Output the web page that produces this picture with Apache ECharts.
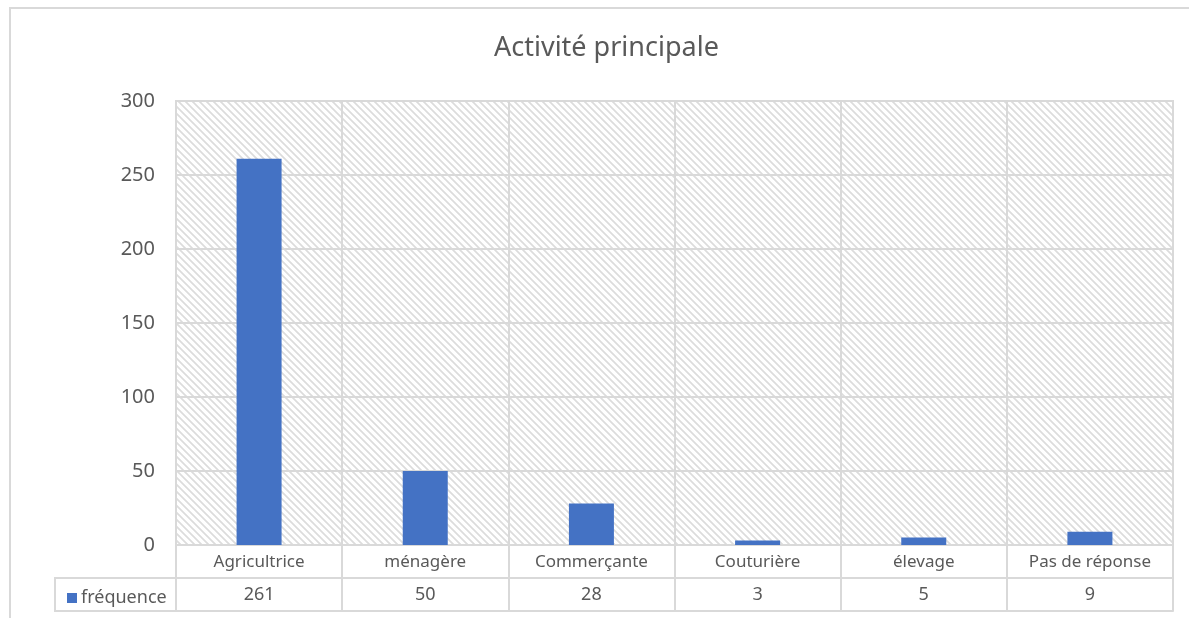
<!DOCTYPE html>
<html>
<head>
<meta charset="utf-8">
<script src="https://cdn.jsdelivr.net/npm/echarts@6/dist/echarts.min.js"></script>
<style>
html,body{margin:0;padding:0;background:#fff;}
#c{width:1189px;height:618px;}
</style>
</head>
<body>
<div id="c"></div>
<script>
const categories = ['Agricultrice', 'ménagère', 'Commerçante', 'Couturière', 'élevage', 'Pas de réponse'];
const frequence = [261, 50, 28, 3, 5, 9];
const yTicks = { min: 0, max: 300, interval: 50 };
const seriesName = 'fréquence';
const titleText = 'Activité principale';

// diagonal hatch pattern
const T = 7;
const tile = document.createElement('canvas');
tile.width = T; tile.height = T;
const g = tile.getContext('2d');
g.fillStyle = '#ffffff'; g.fillRect(0, 0, T, T);
g.strokeStyle = '#dcdcdc'; g.lineWidth = 1.7;
g.beginPath();
g.moveTo(-1, -1); g.lineTo(T + 1, T + 1);
g.moveTo(-T - 1, -1); g.lineTo(1, T + 1);
g.moveTo(T - 1, -1); g.lineTo(2 * T + 1, T + 1);
g.stroke();

const LINE = '#d9d9d9';
const TXT = '#595959';
const FONT = "'Noto Sans', 'DejaVu Sans', sans-serif";

const chart = echarts.init(document.getElementById('c'));
chart.setOption({
  animation: false,
  textStyle: { fontFamily: FONT },
  title: {
    text: titleText,
    left: 489,
    top: 30,
    textStyle: { fontSize: 27, fontWeight: 'normal', color: TXT, fontFamily: FONT }
  },
  legend: {
    left: 62, top: 584,
    icon: 'rect', itemWidth: 10, itemHeight: 10, itemGap: 4,
    textStyle: { fontSize: 18, color: TXT, fontFamily: FONT, padding: [0, 0, 0, -1] },
    data: [seriesName]
  },
  grid: {
    left: 176, right: 16, top: 101, bottom: 73,
    show: true,
    backgroundColor: { image: tile, repeat: 'repeat' },
    borderColor: LINE, borderWidth: 2
  },
  xAxis: [
    {
      type: 'category', data: categories, position: 'bottom',
      axisLine: { show: true, lineStyle: { color: LINE, width: 2 } },
      axisTick: { show: true, interval: 0, length: 33, lineStyle: { color: LINE, width: 2 } },
      splitLine: { show: true, interval: 0, lineStyle: { color: LINE, width: 2 } },
      axisLabel: { interval: 0, fontSize: 17, color: TXT, margin: 9, fontFamily: FONT }
    },
    {
      type: 'category', data: frequence.map(String), position: 'bottom', offset: 33,
      axisLine: { show: true, lineStyle: { color: LINE, width: 2 } },
      axisTick: { show: true, interval: 0, length: 33, lineStyle: { color: LINE, width: 2 } },
      axisLabel: { interval: 0, fontSize: 18, color: TXT, margin: 8, fontFamily: FONT }
    },
    {
      type: 'category', data: categories, position: 'bottom', offset: 66,
      axisLine: { show: true, lineStyle: { color: LINE, width: 2 } },
      axisTick: { show: false },
      axisLabel: { show: false }
    }
  ],
  yAxis: {
    type: 'value', min: yTicks.min, max: yTicks.max, interval: yTicks.interval,
    axisLine: { show: false }, axisTick: { show: false },
    splitLine: { show: true, lineStyle: { color: LINE, width: 2 } },
    axisLabel: { fontSize: 20, color: TXT, margin: 21, fontFamily: FONT }
  },
  graphic: [
    { type: 'rect', shape: { x: 10, y: 8, width: 1200, height: 700 }, style: { fill: 'none', stroke: LINE, lineWidth: 2 }, silent: true, z: 100 },
    { type: 'rect', shape: { x: 55, y: 578, width: 121, height: 33 }, style: { fill: 'none', stroke: LINE, lineWidth: 2 }, silent: true, z: 100 }
  ],
  series: [{
    name: seriesName, type: 'bar', data: frequence, xAxisIndex: 0,
    barWidth: 45,
    itemStyle: { color: '#4472C4' }
  }]
});
</script>
</body>
</html>
